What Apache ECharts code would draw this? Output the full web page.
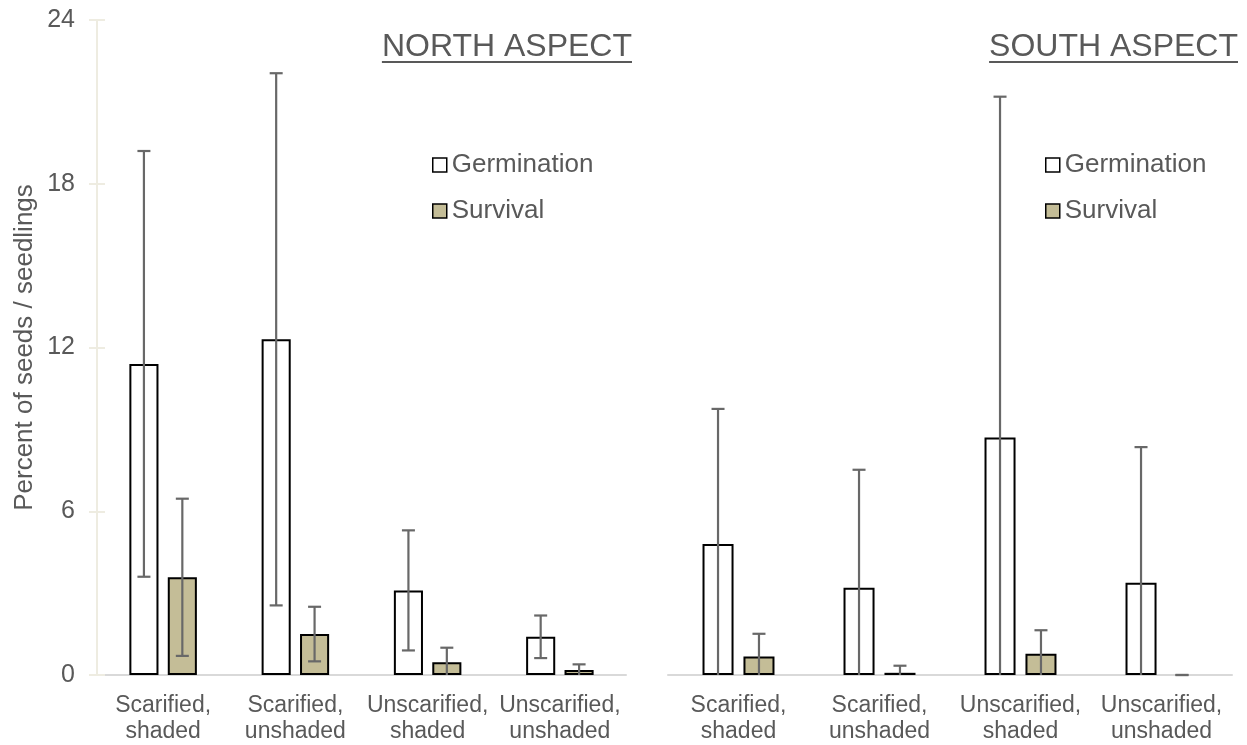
<!DOCTYPE html>
<html>
<head>
<meta charset="utf-8">
<title>Germination and survival by aspect</title>
<script src="https://cdn.jsdelivr.net/npm/echarts@6/dist/echarts.min.js"></script>
<style>
  html, body { margin: 0; padding: 0; background: #ffffff; }
  #chart { width: 1247px; height: 745px; }
</style>
</head>
<body>
<div id="chart"></div>
<script>
// Treatment categories shared by both panels
const categories = ['Scarified,\nshaded', 'Scarified,\nunshaded', 'Unscarified,\nshaded', 'Unscarified,\nunshaded'];
const yTicks = [0, 6, 12, 18, 24];

// North aspect: means and error-bar half-widths (percent)
const northGermination    = [11.4, 12.3, 3.1, 1.4];
const northGerminationErr = [7.8, 9.75, 2.2, 0.78];
const northSurvival       = [3.58, 1.5, 0.47, 0.18];
const northSurvivalErr    = [2.88, 1.0, 0.53, 0.21];

// South aspect: means and error-bar half-widths (percent)
const southGermination    = [4.8, 3.2, 8.7, 3.38];
const southGerminationErr = [4.95, 4.32, 12.49, 4.97];
const southSurvival       = [0.68, 0.08, 0.78, 0];
const southSurvivalErr    = [0.83, 0.26, 0.86, 0];

const FONT = '"Liberation Sans", Arial, Helvetica, sans-serif';
const TEXT = '#595959';
const BAR_W = 0.22;   // bar width as a share of the category band
const BAR_GAP = 0.32; // gap between paired bars as a share of bar width
const ERR_COLOR = '#686868';

const chart = echarts.init(document.getElementById('chart'));

// Error bar: vertical whisker with caps, clipped at zero like the axis
function errorRenderer(slot) {
  return function (params, api) {
    const idx = api.value(0);
    const mean = api.value(1);
    const err = api.value(2);
    const band = api.size([1, 0])[0];
    const bw = band * BAR_W;
    const shift = (bw + bw * BAR_GAP) / 2 * slot;
    const hi = mean + err;
    const lo = Math.max(0, mean - err);
    const top = api.coord([idx, hi]);
    const bot = api.coord([idx, lo]);
    const x = top[0] + shift;
    const cap = 6.5;
    const style = { stroke: ERR_COLOR, lineWidth: 2.2 };
    const children = [
      { type: 'line', shape: { x1: x, y1: top[1], x2: x, y2: bot[1] }, style: style },
      { type: 'line', shape: { x1: x - cap, y1: top[1], x2: x + cap, y2: top[1] }, style: style }
    ];
    if (mean - err >= 0) {
      children.push({ type: 'line', shape: { x1: x - cap, y1: bot[1], x2: x + cap, y2: bot[1] }, style: style });
    }
    return { type: 'group', children: children };
  };
}

function errData(means, errs) {
  return means.map((m, i) => [i, m, errs[i]]);
}

// A zero-height bar has no visible outline
function barData(values) {
  return values.map(v => v === 0
    ? { value: v, itemStyle: { borderColor: 'rgba(0,0,0,0)' } }
    : v);
}

function barSeries(name, gridIdx, values, fill) {
  return {
    type: 'bar',
    name: name,
    xAxisIndex: gridIdx,
    yAxisIndex: gridIdx === 0 ? 0 : 2,
    data: barData(values),
    barWidth: (BAR_W * 100) + '%',
    barGap: (BAR_GAP * 100) + '%',
    itemStyle: { color: fill, borderColor: '#000000', borderWidth: 2 },
    emphasis: { disabled: true },
    z: 2
  };
}

function errSeries(name, gridIdx, means, errs, slot) {
  return {
    type: 'custom',
    name: name,
    xAxisIndex: gridIdx,
    yAxisIndex: gridIdx === 0 ? 0 : 2,
    data: errData(means, errs),
    encode: { x: 0, y: 1 },
    renderItem: errorRenderer(slot),
    silent: true,
    z: 5
  };
}

const xAxisCommon = {
  type: 'category',
  data: categories,
  axisTick: { show: false },
  axisLine: { lineStyle: { color: '#d9d9d9', width: 2 } },
  axisLabel: { color: TEXT, fontSize: 23, lineHeight: 26, fontFamily: FONT, margin: 18, interval: 0 }
};

const yRange = { type: 'value', min: yTicks[0], max: yTicks[yTicks.length - 1], interval: 6, splitLine: { show: false } };

const legendCommon = {
  orient: 'vertical',
  data: ['Germination', 'Survival'],
  icon: 'rect',
  itemWidth: 14,
  itemHeight: 14,
  itemGap: 20,
  selectedMode: false,
  itemStyle: { borderColor: '#000000', borderWidth: 1.5 },
  textStyle: { color: TEXT, fontSize: 26, fontFamily: FONT, padding: [0, 0, 0, 0] }
};

// Measure heading widths so the underline spans the text exactly
const measureCtx = document.createElement('canvas').getContext('2d');
const HEAD_SIZE = 32;
measureCtx.font = HEAD_SIZE + 'px ' + FONT;
function heading(text, right) {
  const w = measureCtx.measureText(text).width;
  return [
    { type: 'text', x: right, y: 31, style: { text: text, align: 'right', verticalAlign: 'top', fill: TEXT, font: HEAD_SIZE + 'px ' + FONT } },
    { type: 'line', shape: { x1: right - w, y1: 62, x2: right, y2: 62 }, style: { stroke: TEXT, lineWidth: 2 } }
  ];
}

chart.setOption({
  animation: false,
  backgroundColor: '#ffffff',
  grid: [
    { left: 97, right: 621, top: 20, bottom: 70 },
    { left: 668, right: 15, top: 20, bottom: 70 }
  ],
  xAxis: [
    Object.assign({ gridIndex: 0 }, xAxisCommon),
    Object.assign({ gridIndex: 1 }, xAxisCommon)
  ],
  yAxis: [
    Object.assign({
      gridIndex: 0,
      position: 'left',
      name: 'Percent of seeds / seedlings',
      nameLocation: 'middle',
      nameRotate: 90,
      nameGap: 59,
      nameTextStyle: { color: TEXT, fontSize: 26, fontFamily: FONT },
      axisLine: { show: true, lineStyle: { color: '#eeece1', width: 2 } },
      axisTick: { show: true, length: 8, lineStyle: { color: '#eeece1', width: 2 } },
      axisLabel: { color: TEXT, fontSize: 25, fontFamily: FONT, margin: 22 }
    }, yRange),
    // inside half of the crossing tick marks
    Object.assign({
      gridIndex: 0,
      position: 'left',
      axisLine: { show: false },
      axisTick: { show: true, inside: true, length: 8, lineStyle: { color: '#eeece1', width: 2 } },
      axisLabel: { show: false }
    }, yRange),
    Object.assign({
      gridIndex: 1,
      show: false
    }, yRange)
  ],
  legend: [
    Object.assign({ left: 427, top: 147 }, legendCommon),
    Object.assign({ left: 1040, top: 147 }, legendCommon)
  ],
  graphic: heading('NORTH ASPECT', 632).concat(heading('SOUTH ASPECT', 1238)),
  series: [
    barSeries('Germination', 0, northGermination, '#ffffff'),
    barSeries('Survival', 0, northSurvival, '#c4bd97'),
    barSeries('Germination', 1, southGermination, '#ffffff'),
    barSeries('Survival', 1, southSurvival, '#c4bd97'),
    errSeries('Germination error N', 0, northGermination, northGerminationErr, -1),
    errSeries('Survival error N', 0, northSurvival, northSurvivalErr, 1),
    errSeries('Germination error S', 1, southGermination, southGerminationErr, -1),
    errSeries('Survival error S', 1, southSurvival, southSurvivalErr, 1)
  ]
});
</script>
</body>
</html>
